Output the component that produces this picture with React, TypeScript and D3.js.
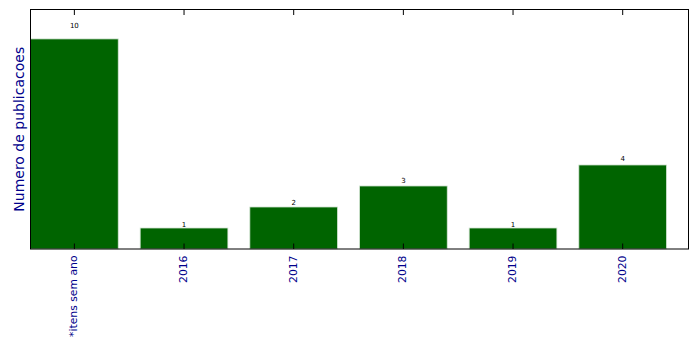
import React from "react";
import * as d3 from "d3";

const categories = ["*itens sem ano", "2016", "2017", "2018", "2019", "2020"];
const counts = [10, 1, 2, 3, 1, 4];
const yLabel = "Numero de publicacoes";

const W = 699;
const H = 349;
const M = { left: 30.5, right: 10.5, top: 9.5, bottom: 100 };

export default function App() {
  const x = d3.scaleLinear().domain([-0.4, categories.length - 0.4]).range([M.left, W - M.right]);
  const y = d3.scaleLinear().domain([0, 11.4]).range([H - M.bottom, M.top]);
  const bw = x(0.8) - x(0);
  const y0 = y(0);
  const tickLen = 5.5;
  const blue = "#00008B";
  return (
    <svg width={W} height={H} style={{ position: "absolute", left: 0, top: 0 }} fontFamily="DejaVu Sans">
      <rect x={0} y={0} width={W} height={H} fill="white" />
      {counts.map((v, i) => (
        <g key={i}>
          <rect x={x(i) - bw / 2} y={y(v)} width={bw} height={y0 - y(v)} fill="#006400" stroke="#d6e6d6" strokeWidth={0.8} />
          <text x={x(i)} y={y(v * 1.05)} fontSize={7} textAnchor="middle" fill="#000">{v}</text>
        </g>
      ))}
      <rect x={M.left} y={M.top} width={W - M.right - M.left} height={y0 - M.top} fill="none" stroke="#000" strokeWidth={1} />
      {categories.map((c, i) => (
        <g key={c}>
          <line x1={x(i)} x2={x(i)} y1={y0} y2={y0 - tickLen} stroke="#000" strokeWidth={1} />
          <line x1={x(i)} x2={x(i)} y1={M.top} y2={M.top + tickLen} stroke="#000" strokeWidth={1} />
          <text transform={`translate(${x(i) + 3},${y0 + 6.5}) rotate(-90)`} fontSize={10.8} textAnchor="end" fill={blue}>{c}</text>
        </g>
      ))}
      <text transform={`translate(23.5,${(M.top + y0) / 2}) rotate(-90)`} fontSize={14} textAnchor="middle" fill={blue}>{yLabel}</text>
    </svg>
  );
}
